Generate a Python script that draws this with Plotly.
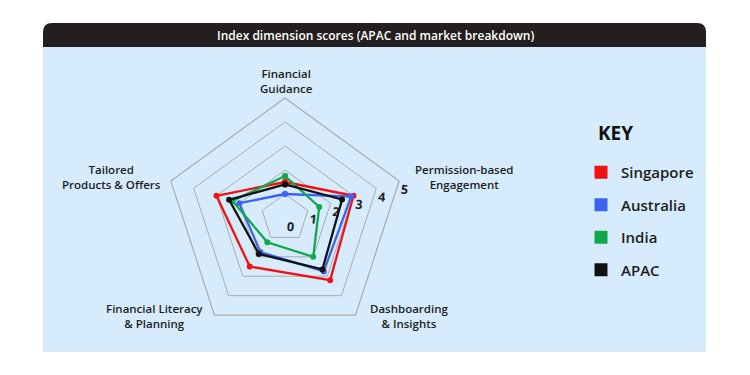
import plotly.graph_objects as go

# ---- data ----
categories = ["Financial<br>Guidance", "Permission-based<br>Engagement",
              "Dashboarding<br>& Insights", "Financial Literacy<br>& Planning",
              "Tailored<br>Products & Offers"]
singapore = [1.5, 3.0, 3.2, 2.5, 3.0]
australia = [1.0, 2.9, 2.75, 1.75, 2.0]
india = [1.75, 1.5, 2.0, 1.25, 2.3]
apac = [1.4, 2.5, 2.65, 1.85, 2.45]
series_names = ["Singapore", "Australia", "India", "APAC"]
radial_ticks = [0, 1, 2, 3, 4, 5]
title_text = "Index dimension scores (APAC and market breakdown)"
legend_title = "KEY"

# ---- styles ----
W, H = 750, 375
OFF = 8  # page body margin
colors = ["#f21111", "#3d63f5", "#12a84a", "#111111"]
FONT = "Open Sans"
TXT = "#1d1d1d"
# label anchor points (px) for the category labels
label_pos = [(286, 81), (464, 177), (409, 316), (154, 316), (111, 177)]


def fx(x):
    return (x - OFF) / W


def fy(y):
    return 1 - (y - OFF) / H


fig = go.Figure()
all_series = [singapore, australia, india, apac]
for name, vals, col in zip(series_names, all_series, colors):
    fig.add_trace(go.Scatterpolar(
        r=vals + vals[:1], theta=categories + categories[:1],
        mode="lines+markers", name=name, showlegend=False,
        legendgroup=name,
        line=dict(color=col, width=2.3),
        marker=dict(color=col, size=6),
        hoverinfo="name+r+theta",
    ))
for name, col in zip(series_names, colors):
    fig.add_trace(go.Scatterpolar(
        r=[None], theta=[categories[0]], mode="markers", name=name,
        legendgroup=name, showlegend=True,
        marker=dict(color=col, size=13, symbol="square"),
    ))

# header bar with rounded top corners
x0, x1, y0, y1, rr = 43, 706, 23, 47, 9
path = (f"M {fx(x0)},{fy(y1)} L {fx(x0)},{fy(y0 + rr)} "
        f"Q {fx(x0)},{fy(y0)} {fx(x0 + rr)},{fy(y0)} "
        f"L {fx(x1 - rr)},{fy(y0)} Q {fx(x1)},{fy(y0)} {fx(x1)},{fy(y0 + rr)} "
        f"L {fx(x1)},{fy(y1)} Z")
shapes = [
    dict(type="rect", xref="paper", yref="paper", x0=fx(43), x1=fx(706),
         y0=fy(352), y1=fy(46), fillcolor="#d6ecfc", line=dict(width=0),
         layer="below"),
    dict(type="path", xref="paper", yref="paper", path=path,
         fillcolor="#231f20", line=dict(width=0), layer="below"),
]

annotations = [
    dict(text=title_text, xref="paper", yref="paper",
         x=fx(375), y=fy(36), xanchor="center", yanchor="middle",
         showarrow=False,
         font=dict(color="white", size=12, family=FONT, weight=600)),
    dict(text="<b>" + legend_title + "</b>", xref="paper", yref="paper",
         x=fx(596), y=fy(133), xanchor="left", yanchor="middle",
         showarrow=False, font=dict(size=19, color="#111")),
]
for cat, (lx, ly) in zip(categories, label_pos):
    annotations.append(dict(
        text=cat, xref="paper", yref="paper", x=fx(lx), y=fy(ly),
        xanchor="center", yanchor="middle", align="center", showarrow=False,
        font=dict(size=11.5, color=TXT, weight=600)))

cx, cy, R = 285, 218, 120
fig.update_layout(
    width=W, height=H,
    margin=dict(l=0, r=0, t=0, b=0),
    paper_bgcolor="white",
    font=dict(family=FONT, color=TXT),
    shapes=shapes,
    annotations=annotations,
    polar=dict(
        domain=dict(x=[fx(cx - R), fx(cx + R)], y=[fy(cy + R), fy(cy - R)]),
        bgcolor="rgba(0,0,0,0)",
        gridshape="linear",
        radialaxis=dict(range=[0, 5], tickvals=radial_ticks, angle=24,
                        tickangle=24,
                        showline=False, ticks="", gridcolor="#ababab",
                        gridwidth=1.2,
                        tickfont=dict(size=12.5, color=TXT, weight=700)),
        angularaxis=dict(direction="clockwise", rotation=90, showgrid=False,
                         showline=True, linecolor="#ababab", linewidth=1.2,
                         ticks="", categoryorder="array",
                         categoryarray=categories, showticklabels=False),
    ),
    legend=dict(x=fx(581), y=fy(156), xanchor="left", yanchor="top",
                bgcolor="rgba(0,0,0,0)",
                font=dict(size=15, color=TXT, weight=600),
                tracegroupgap=10, itemsizing="trace"),
)

fig.write_html("out.html")
